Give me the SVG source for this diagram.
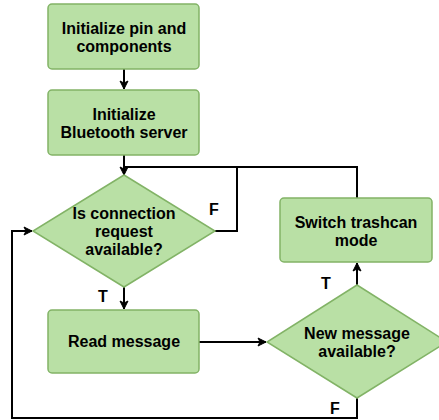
<svg xmlns="http://www.w3.org/2000/svg" width="439" height="420" viewBox="0 0 439 420">
<defs>
<marker id="ah" markerWidth="10" markerHeight="10" refX="9" refY="5" orient="auto" markerUnits="userSpaceOnUse">
<path d="M1,1 L9,5 L1,9 L3,5 Z" fill="#000" stroke="#000" stroke-width="1"/>
</marker>
<style>
.box{fill:#b9e0a5;stroke:#82b366;stroke-width:1.5}
.t{font-family:"Liberation Sans",Arial,sans-serif;font-size:16px;font-weight:bold;fill:#000;text-anchor:middle}
.c{fill:none;stroke:#000;stroke-width:2}
</style>
</defs>
<rect width="439" height="420" fill="#fff"/>
<g id="connectors">
<path class="c" d="M124,69 V89" marker-end="url(#ah)"/>
<path class="c" d="M124,155 V175" marker-end="url(#ah)"/>
<path class="c" d="M124,167 H357 V198"/>
<path class="c" d="M215,231 H237 V167"/>
<path class="c" d="M124,287 V309" marker-end="url(#ah)"/>
<path class="c" d="M199,342 H266" marker-end="url(#ah)"/>
<path class="c" d="M357,285 V263" marker-end="url(#ah)"/>
<path class="c" d="M357,398 V418 H12 V231 H32" marker-end="url(#ah)"/>
<text class="t" x="214" y="215">F</text>
<text class="t" x="103" y="302">T</text>
<text class="t" x="326" y="289">T</text>
<text class="t" x="335" y="414">F</text>
</g>
<g id="init-pins">
<rect class="box" x="48" y="4" width="151" height="65" rx="4"/>
<text class="t" x="124" y="34">Initialize pin and</text>
<text class="t" x="124" y="52">components</text>
</g>
<g id="init-bt">
<rect class="box" x="48" y="90" width="151" height="65" rx="4"/>
<text class="t" x="124" y="120">Initialize</text>
<text class="t" x="124" y="138">Bluetooth server</text>
</g>
<g id="conn-req">
<polygon class="box" points="124,175 215,231 124,287 33,231"/>
<text class="t" x="124" y="219">Is connection</text>
<text class="t" x="124" y="237">request</text>
<text class="t" x="124" y="255">available?</text>
</g>
<g id="read-msg">
<rect class="box" x="48" y="310" width="151" height="63" rx="4"/>
<text class="t" x="124" y="347">Read message</text>
</g>
<g id="new-msg">
<polygon class="box" points="357,285 447,342 357,398 267,342"/>
<text class="t" x="357" y="339">New message</text>
<text class="t" x="357" y="357">available?</text>
</g>
<g id="switch">
<rect class="box" x="280" y="198" width="152" height="64" rx="4"/>
<text class="t" x="356" y="228">Switch trashcan</text>
<text class="t" x="356" y="246">mode</text>
</g>
</svg>
